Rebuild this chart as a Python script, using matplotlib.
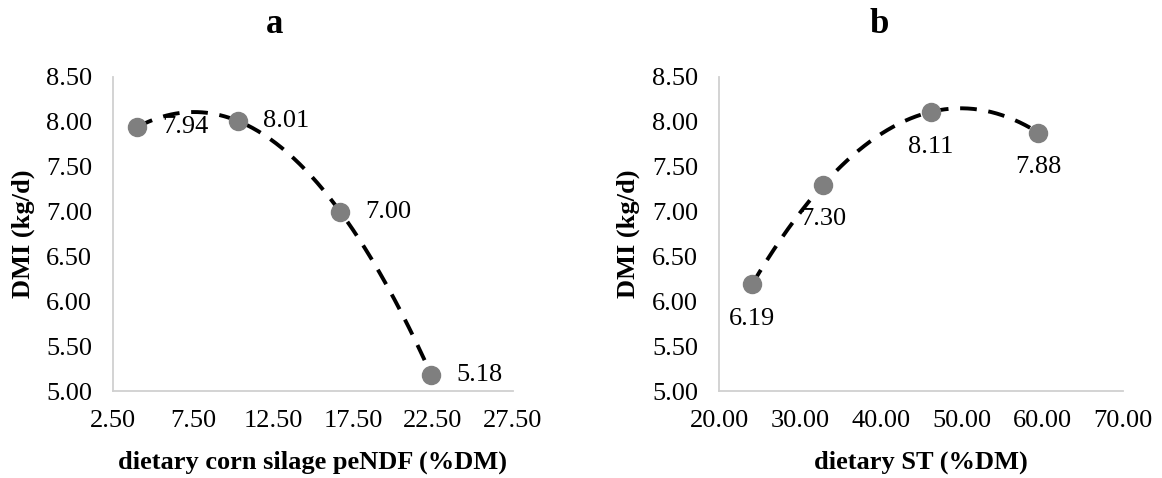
import numpy as np
import matplotlib.pyplot as plt

plt.rcParams['font.family'] = ['Liberation Serif', 'DejaVu Serif']

# panel a: corn silage peNDF
x_a = [4.0, 10.3, 16.7, 22.4]
y_a = [7.94, 8.01, 7.00, 5.18]
lab_a = ['7.94', '8.01', '7.00', '5.18']

# panel b: starch
x_b = [24.1, 32.9, 46.2, 59.5]
y_b = [6.19, 7.30, 8.11, 7.88]
lab_b = ['6.19', '7.30', '8.11', '7.88']

yticks = [5.0, 5.5, 6.0, 6.5, 7.0, 7.5, 8.0, 8.5]
xticks_a = [2.5, 7.5, 12.5, 17.5, 22.5, 27.5]
xticks_b = [20, 30, 40, 50, 60, 70]

FS = 19

fig = plt.figure(figsize=(11.62, 4.78), dpi=100)
ax1 = fig.add_axes([0.0972, 0.182, 0.3442, 0.657])
ax2 = fig.add_axes([0.6188, 0.182, 0.3477, 0.657])

def style(ax, xticks, xlabel):
    ax.set_ylim(5.0, 8.5)
    ax.set_yticks(yticks)
    ax.set_yticklabels(['%.2f' % v for v in yticks])
    ax.set_xlim(xticks[0], xticks[-1])
    ax.set_xticks(xticks)
    ax.set_xticklabels(['%.2f' % v for v in xticks])
    for s in ['top', 'right']:
        ax.spines[s].set_visible(False)
    for s in ['left', 'bottom']:
        ax.spines[s].set_color('#d0d0d0')
        ax.spines[s].set_linewidth(1.3)
    ax.tick_params(length=0, labelsize=FS)
    ax.tick_params(axis='y', pad=15)
    ax.tick_params(axis='x', pad=14)
    ax.set_xlabel(xlabel, fontsize=FS, fontweight='bold', va='center')
    ax.xaxis.set_label_coords(0.5, -0.226)
    ax.set_ylabel('DMI (kg/d)', fontsize=FS, fontweight='bold', va='center')
    ax.yaxis.set_label_coords(-0.224, 0.5)

dash = (0, (4.3, 3.0))

# polynomial trendlines like the spreadsheet ones
xx = np.linspace(min(x_a), max(x_a), 200)
ax1.plot(xx, np.polyval(np.polyfit(x_a, y_a, 3), xx), color='black',
         lw=2.8, ls=dash, zorder=2)
ax1.plot(x_a, y_a, 'o', color='#7f7f7f', ms=13, zorder=3)
for x, y, t in zip(x_a, y_a, lab_a):
    ax1.annotate(t, (x, y), xytext=(18, 0), textcoords='offset points',
                 ha='left', va='center', fontsize=FS)
style(ax1, xticks_a, 'dietary corn silage peNDF (%DM)')

xx = np.linspace(min(x_b), max(x_b), 200)
ax2.plot(xx, np.polyval(np.polyfit(x_b, y_b, 2), xx), color='black',
         lw=2.8, ls=dash, zorder=2)
ax2.plot(x_b, y_b, 'o', color='#7f7f7f', ms=13, zorder=3)
for x, y, t in zip(x_b, y_b, lab_b):
    ax2.annotate(t, (x, y), xytext=(0, -17), textcoords='offset points',
                 ha='center', va='top', fontsize=FS)
style(ax2, xticks_b, 'dietary ST (%DM)')

fig.text(0.2367, 0.948, 'a', fontsize=25, fontweight='bold', ha='center', va='center')
fig.text(0.757, 0.948, 'b', fontsize=25, fontweight='bold', ha='center', va='center')

fig.savefig('out.png', dpi=100)
